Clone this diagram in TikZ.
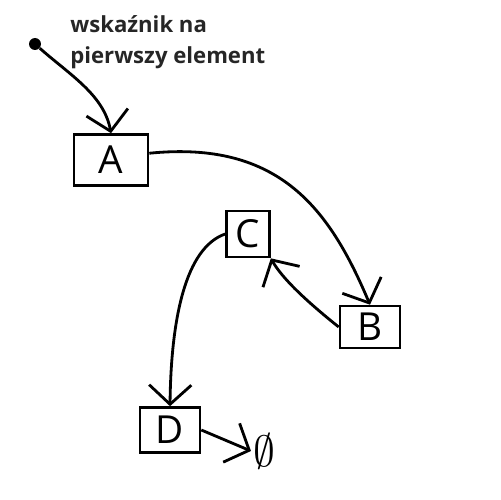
\documentclass[tikz,border=0pt]{standalone}
\usepackage{amsmath, amssymb}
\usepackage{fontspec}
\setmainfont{Open Sans}
\usepackage{tikz}
\usetikzlibrary{arrows.meta}
\usetikzlibrary{positioning}
\tikzstyle{boite}=[draw,line width=1.5pt,inner sep=0pt,
        font=\fontsize{22}{26}\selectfont]
\tikzstyle{point}=[circle,fill=black,inner sep=0pt,minimum size=0.24cm]
\tikzstyle{titre}=[align=left,inner sep=0pt,text=black!85,
        font=\bfseries\fontsize{12.6}{18}\selectfont]
\tikzstyle{suite}=[-{Straight Barb[length=11pt,width=24pt]},line width=1.6pt]

\begin{document}
\begin{tikzpicture}[x=0.02cm,y=-0.02cm]
\useasboundingbox (0,0) rectangle (500,500);
\node[point] (p) at (35,44) {};
\node[titre,anchor=north west] (t) at (70,15) {wskaźnik na\\pierwszy element};
\node[boite,minimum width=1.48cm,minimum height=1.02cm] (a) at (111,160) {A};
\node[boite,minimum width=0.86cm,minimum height=0.92cm] (c) at (248,234) {C};
\node[boite,minimum width=1.2cm,minimum height=0.84cm] (b) at (370,327) {B};
\node[boite,minimum width=1.2cm,minimum height=0.9cm] (d) at (170,430) {D};
\node[inner sep=1pt,font=\fontsize{28}{32}\selectfont] (pusty) at (264,451) {$\emptyset$};
%Placementdesstrzalek
\draw[suite] (p) .. controls (70,75) and (104,95) .. (a.north);
\draw[suite] (a.10) .. controls (280,140) and (330,210) .. (b.north);
\draw[suite] (b.west) .. controls (305,300) and (282,278) .. (c.south east);
\draw[suite] (c.west) .. controls (185,248) and (171,320) .. (d.north);
\draw[suite] (d.east) -- (pusty.west);
\end{tikzpicture}
\end{document}
